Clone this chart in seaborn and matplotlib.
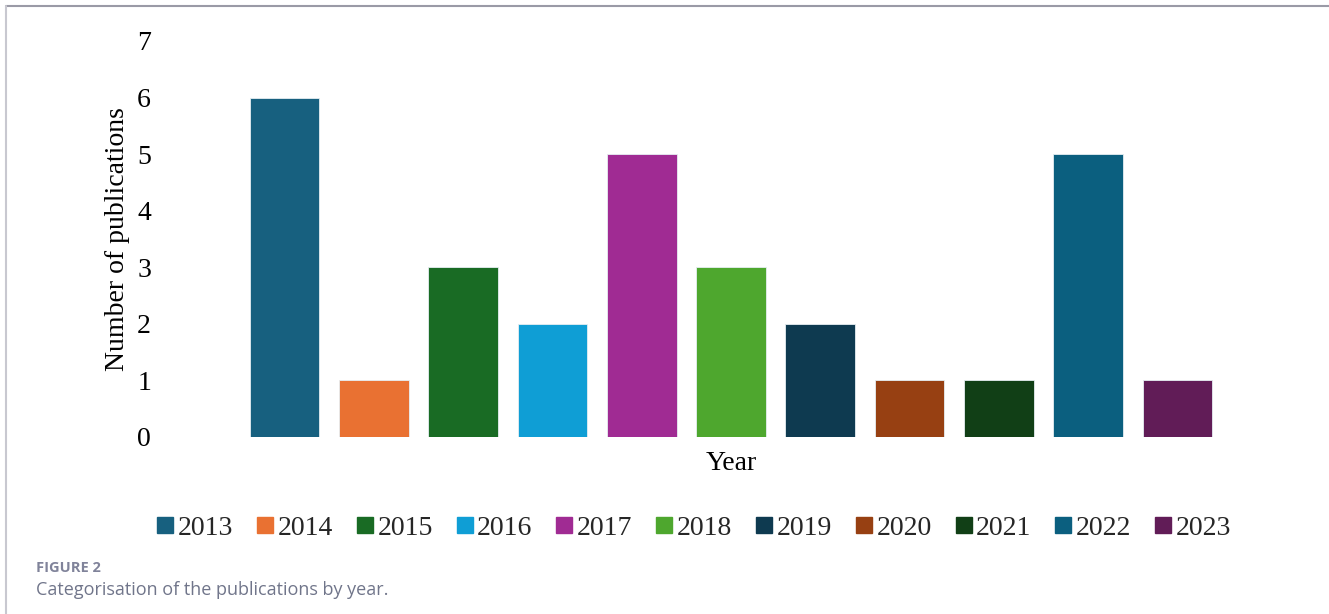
import matplotlib
matplotlib.use("Agg")
import matplotlib.pyplot as plt
import seaborn as sns
import pandas as pd
from matplotlib.lines import Line2D

years = ["2013", "2014", "2015", "2016", "2017", "2018", "2019", "2020", "2021", "2022", "2023"]
counts = [6, 1, 3, 2, 5, 3, 2, 1, 1, 5, 1]
colors = ["#17607f", "#e97132", "#196b24", "#0f9ed5", "#a02b93", "#4ea72e",
          "#0e3a50", "#974012", "#113f16", "#0b5f7f", "#611c57"]

sns.set_theme(style="white")
plt.rcParams["font.family"] = ["Liberation Serif", "DejaVu Serif"]

df = pd.DataFrame({"Year": years, "Count": counts})

fig = plt.figure(figsize=(13.29, 6.14), dpi=100)
ax = fig.add_axes([240/1329, 1-437/614, (1222-240)/1329, (437-41)/614])

sns.barplot(data=df, x="Year", y="Count", hue="Year", palette=colors,
            width=0.78, ax=ax, legend=False, edgecolor="#e6eef2", linewidth=0.6,
            saturation=1)

ax.set_xlim(-0.5, 10.5)
ax.set_ylim(0, 7)
ax.set_yticks(range(0, 8))
ax.set_yticklabels([str(i) for i in range(0, 8)], fontsize=20, color="black")
ax.tick_params(axis="y", length=0, pad=64)
ax.set_xticks([])
ax.set_xlabel("Year", fontsize=20, color="black", labelpad=10)
ax.set_ylabel("Number of publications", fontsize=20, color="black", labelpad=5)
for s in ax.spines.values():
    s.set_visible(False)

handles = [Line2D([0], [0], marker="s", linestyle="none", markersize=12,
                  markerfacecolor=c, markeredgecolor=c) for c in colors]
fig.legend(handles, years, loc="center", bbox_to_anchor=(694/1329, 1-528/614),
           ncol=11, frameon=False, fontsize=20, handlelength=0.6,
           handletextpad=0.15, columnspacing=0.85, borderaxespad=0)

# figure frame lines (top and left)
fig.add_artist(Line2D([6/1329, 1], [1-6/614, 1-6/614], color="#9a9aa6", lw=1.5,
                      transform=fig.transFigure))
fig.add_artist(Line2D([6/1329, 6/1329], [0, 1-6/614], color="#c8c8d0", lw=1.5,
                      transform=fig.transFigure))

fig.text(36/1329, 1-568/614, "FIGURE 2", fontsize=10.5, fontweight="bold",
         color="#80839a", family=["Open Sans", "DejaVu Sans"], va="center")
fig.text(36/1329, 1-590/614, "Categorisation of the publications by year.",
         fontsize=13, color="#70758a", family=["Open Sans", "DejaVu Sans"], va="center")

fig.savefig("out.png", dpi=100, facecolor="white")
